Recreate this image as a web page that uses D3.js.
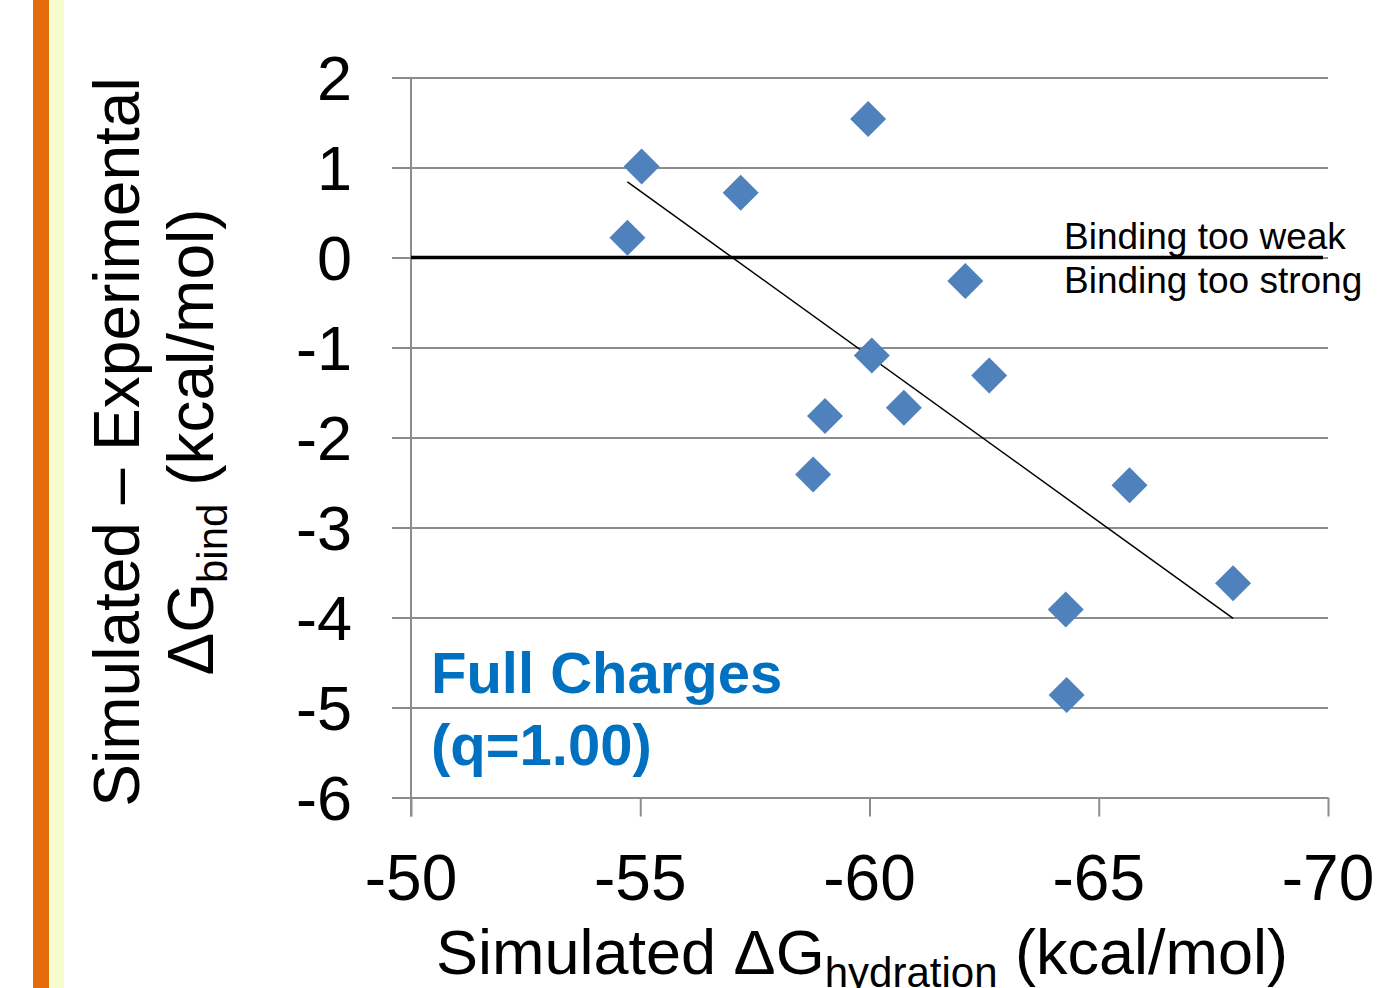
<!DOCTYPE html>
<html>
<head>
<meta charset="utf-8">
<script src="https://cdn.jsdelivr.net/npm/d3@7"></script>
<style>
  html, body { margin: 0; padding: 0; background: #fff; }
  svg { display: block; font-family: "Liberation Sans", Arial, sans-serif; }
</style>
</head>
<body>
<svg id="chart" width="1394" height="988"></svg>
<script>
// ---- data ----
const hydration = [-54.72, -55.03, -57.19, -59.97, -62.09, -60.05, -62.61, -59.03, -60.75, -58.77, -65.67, -67.93, -64.28, -64.30];
const bindDiff  = [0.22, 1.01, 0.72, 1.54, -0.26, -1.09, -1.31, -1.76, -1.67, -2.41, -2.53, -3.62, -3.91, -4.86];
const trendX = [-54.72, -67.93];
const trendY = [0.84, -4.01];
const xTicks = [-50, -55, -60, -65, -70];
const yTicks = [2, 1, 0, -1, -2, -3, -4, -5, -6];
const xDomain = [-50, -70];
const yDomain = [2, -6];

// ---- layout ----
const svg = d3.select("#chart");
const W = 1394, H = 988;
const L = 411, R = 1328, T = 77.5, B = 797.5;
const x = d3.scaleLinear().domain(xDomain).range([L, R]);
const y = d3.scaleLinear().domain(yDomain).range([T, B]);
const gridColor = "#8c8c8c";

// decorative side strip
svg.append("rect").attr("x", 33).attr("y", 0).attr("width", 16).attr("height", H).attr("fill", "#E46C0A");
svg.append("rect").attr("x", 49).attr("y", 0).attr("width", 15).attr("height", H).attr("fill", "#F5FCCE");

// horizontal gridlines (with outward tick)
const yAxis = d3.axisLeft(y).tickValues(yTicks).tickSize(-(R - L)).tickFormat("");
const gy = svg.append("g").attr("transform", `translate(${L},0)`).call(yAxis);
gy.select(".domain").remove();
gy.selectAll(".tick line").attr("stroke", gridColor).attr("stroke-width", 2).attr("x1", -19);

// y axis line
svg.append("line").attr("x1", L).attr("x2", L).attr("y1", y(2)).attr("y2", B + 19)
  .attr("stroke", gridColor).attr("stroke-width", 2);

// x axis ticks
const xAxis = d3.axisBottom(x).tickValues(xTicks).tickSize(19).tickFormat("");
const gx = svg.append("g").attr("transform", `translate(0,${B})`).call(xAxis);
gx.select(".domain").remove();
gx.selectAll(".tick line").attr("stroke", gridColor).attr("stroke-width", 2);

// y tick labels
svg.append("g").selectAll("text").data(yTicks).join("text")
  .attr("x", 352).attr("y", d => y(d)).attr("dy", "0.36em")
  .attr("text-anchor", "end").attr("font-size", 63).attr("fill", "#000")
  .text(d => d);

// x tick labels
svg.append("g").selectAll("text").data(xTicks).join("text")
  .attr("x", d => x(d)).attr("y", 900)
  .attr("text-anchor", "middle").attr("font-size", 64).attr("fill", "#000")
  .text(d => d);

// zero line
svg.append("line").attr("x1", L).attr("x2", 1323).attr("y1", y(0)).attr("y2", y(0))
  .attr("stroke", "#000").attr("stroke-width", 3.5);

// trend line
svg.append("line")
  .attr("x1", x(trendX[0])).attr("y1", y(trendY[0]))
  .attr("x2", x(trendX[1])).attr("y2", y(trendY[1]))
  .attr("stroke", "#000").attr("stroke-width", 1.5);

// points
const pts = hydration.map((v, i) => ({ x: v, y: bindDiff[i] }));
svg.append("g").selectAll("path").data(pts).join("path")
  .attr("transform", d => `translate(${x(d.x)},${y(d.y)})`)
  .attr("d", "M0,-18L18,0L0,18L-18,0Z")
  .attr("fill", "#4F81BD");

// annotations
svg.append("text").attr("x", 1064).attr("y", 249).attr("font-size", 37).attr("fill", "#000").text("Binding too weak");
svg.append("text").attr("x", 1064).attr("y", 293).attr("font-size", 37).attr("fill", "#000").text("Binding too strong");

svg.append("text").attr("x", 431).attr("y", 693).attr("font-size", 58).attr("font-weight", "bold")
  .attr("fill", "#0070C0").text("Full Charges");
svg.append("text").attr("x", 431).attr("y", 765).attr("font-size", 58).attr("font-weight", "bold")
  .attr("fill", "#0070C0").text("(q=1.00)");

// x axis title
const xt = svg.append("text").attr("x", 862).attr("y", 974).attr("text-anchor", "middle")
  .attr("font-size", 63).attr("fill", "#000");
xt.append("tspan").text("Simulated ΔG");
xt.append("tspan").attr("font-size", 42).attr("dy", 13).text("hydration");
xt.append("tspan").attr("dy", -13).text(" (kcal/mol)");

// y axis title (rotated, two lines)
const yt = svg.append("g").attr("transform", "translate(139,442) rotate(-90)");
yt.append("text").attr("x", 0).attr("y", 0).attr("text-anchor", "middle")
  .attr("font-size", 64).attr("fill", "#000").text("Simulated – Experimental");
const yt2 = yt.append("text").attr("x", 0).attr("y", 74).attr("text-anchor", "middle")
  .attr("font-size", 64).attr("fill", "#000");
yt2.append("tspan").text("ΔG");
yt2.append("tspan").attr("font-size", 42).attr("dy", 14).text("bind");
yt2.append("tspan").attr("dy", -14).text(" (kcal/mol)");
</script>
</body>
</html>
